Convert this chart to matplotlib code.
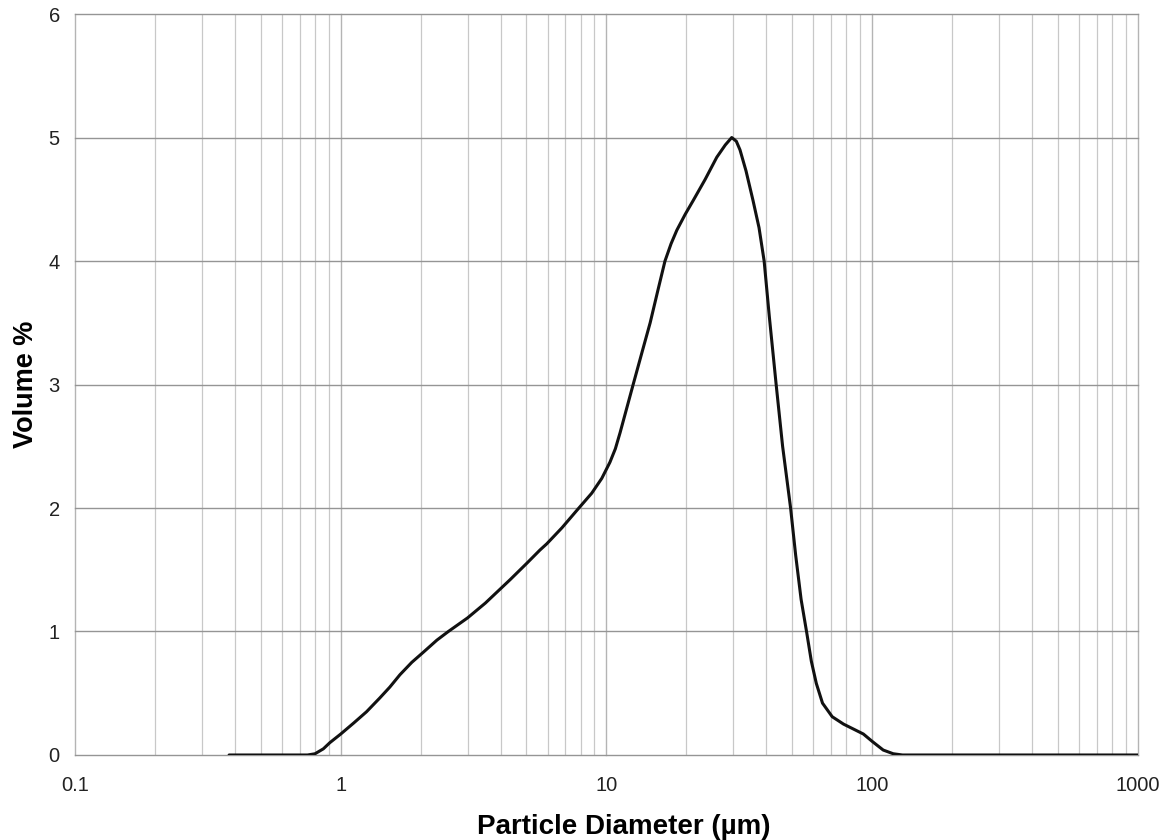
import matplotlib.pyplot as plt
from matplotlib.ticker import LogLocator, FixedLocator, NullFormatter

plt.rcParams["font.family"] = ["Liberation Sans", "DejaVu Sans"]

# particle size distribution
diameter_um = [0.38, 0.6, 0.75, 0.8, 0.86, 0.91, 1.0, 1.12, 1.25, 1.4, 1.53, 1.67, 1.85,
               2.04, 2.3, 2.54, 3.0, 3.5, 4.34, 5.0, 5.62, 5.96, 6.8, 7.8, 8.8, 9.6, 10.3,
               10.8, 11.25, 12.6, 13.6, 14.6, 15.6, 16.6, 17.5, 18.4, 19.8, 21.2, 23.5,
               26.0, 28.0, 29.6, 30.8, 31.8, 33.5, 35.6, 37.5, 39.2, 41.0, 43.5, 46.0,
               49.3, 51.5, 54.0, 56.7, 59.0, 61.6, 65.0, 70.7, 78.0, 85.0, 92.6, 100.0,
               110.0, 120.0, 130.0, 300.0, 1000.0]
volume_pct = [0.0, 0.0, 0.0, 0.01, 0.05, 0.1, 0.17, 0.26, 0.35, 0.46, 0.55, 0.65, 0.75,
              0.83, 0.93, 1.0, 1.11, 1.23, 1.42, 1.55, 1.66, 1.71, 1.84, 1.99, 2.12, 2.24,
              2.37, 2.48, 2.61, 3.0, 3.26, 3.5, 3.76, 4.0, 4.14, 4.25, 4.38, 4.49, 4.66,
              4.84, 4.94, 5.0, 4.97, 4.9, 4.73, 4.49, 4.27, 4.0, 3.55, 3.0, 2.5,
              2.0, 1.62, 1.26, 0.99, 0.76, 0.58, 0.42, 0.31, 0.25, 0.21, 0.17, 0.11,
              0.04, 0.01, 0.0, 0.0, 0.0]

x_ticks = [0.1, 1, 10, 100, 1000]
x_labels = ["0.1", "1", "10", "100", "1000"]
y_ticks = [0, 1, 2, 3, 4, 5, 6]

fig = plt.figure(figsize=(11.67, 8.4), dpi=100)
ax = fig.add_axes([0.0643, 0.1012, 0.9108, 0.8821])

ax.plot(diameter_um, volume_pct, color="#111111", linewidth=2.2,
        solid_joinstyle="round", solid_capstyle="round", zorder=3)

ax.set_xscale("log")
ax.set_xlim(0.1, 1000)
ax.set_ylim(0, 6)
ax.xaxis.set_major_locator(FixedLocator(x_ticks))
ax.set_xticklabels(x_labels)
ax.xaxis.set_minor_locator(LogLocator(base=10, subs=range(2, 10)))
ax.xaxis.set_minor_formatter(NullFormatter())
ax.set_yticks(y_ticks)

ax.grid(True, which="major", axis="x", color="#b4b4b4", linewidth=1.0)
ax.grid(True, which="minor", axis="x", color="#c8c8c8", linewidth=0.9)
ax.grid(True, which="major", axis="y", color="#959595", linewidth=1.0)
ax.set_axisbelow(True)
for gl in ax.get_ygridlines() + ax.get_xgridlines():
    gl.set_clip_on(False)

for s in ax.spines.values():
    s.set_visible(False)
ax.tick_params(which="both", length=0, labelsize=14.5, colors="#222222")
ax.tick_params(axis="x", pad=15)
ax.tick_params(axis="y", pad=11)

ax.set_xlabel("Particle Diameter (µm)", fontsize=20, fontweight="bold")
ax.xaxis.set_label_coords(0.5165, -0.079)
ax.set_ylabel("Volume %", fontsize=19.5, fontweight="bold", labelpad=7)

fig.savefig("out.png", dpi=100)
